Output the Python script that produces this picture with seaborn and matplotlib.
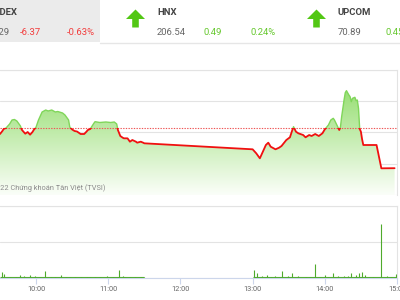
import numpy as np
import pandas as pd
import matplotlib
matplotlib.use("Agg")
import matplotlib.pyplot as plt
import seaborn as sns
from matplotlib.patches import Rectangle, Polygon
from matplotlib.colors import LinearSegmentedColormap

# ---------------- data ----------------
times = ["09:30", "09:32", "09:33", "09:35", "09:38", "09:40", "09:42", "09:44", "09:47", "09:48",
         "09:49", "09:51", "09:53", "09:55", "09:57", "09:58", "10:00", "10:02", "10:05", "10:08",
         "10:10", "10:13", "10:16", "10:18", "10:22", "10:24", "10:27", "10:28", "10:30", "10:32",
         "10:34", "10:37", "10:40", "10:42", "10:43", "10:45", "10:48", "10:49", "10:53", "10:58",
         "11:02", "11:05", "11:07", "11:08", "11:10", "11:12", "11:13", "11:16", "11:18", "11:20",
         "11:23", "11:24", "11:27", "11:29", "11:30", "13:00", "13:03", "13:06", "13:08", "13:11",
         "13:13", "13:15", "13:19", "13:22", "13:24", "13:28", "13:31", "13:33", "13:34", "13:36",
         "13:38", "13:42", "13:44", "13:47", "13:49", "13:52", "13:55", "13:58", "14:00", "14:03",
         "14:05", "14:07", "14:08", "14:10", "14:12", "14:13", "14:14", "14:16", "14:17", "14:18",
         "14:20", "14:21", "14:22", "14:23", "14:25", "14:26", "14:27", "14:28", "14:29", "14:30",
         "14:31", "14:32", "14:43", "14:47", "14:58"]
prices = [1009.76, 1010.24, 1010.56, 1010.72, 1011.36, 1012.00, 1012.08, 1011.84, 1011.04, 1010.48,
          1010.24, 1009.81, 1010.08, 1009.65, 1010.08, 1010.40, 1010.88, 1012.00, 1013.28, 1013.60,
          1013.44, 1013.60, 1013.28, 1013.36, 1013.12, 1012.80, 1012.00, 1010.88, 1010.48, 1010.24,
          1010.16, 1009.76, 1009.76, 1010.16, 1010.40, 1010.56, 1011.47, 1011.73, 1011.60, 1011.68,
          1011.60, 1011.68, 1011.36, 1010.40, 1009.44, 1009.17, 1009.07, 1009.07, 1008.53, 1008.80,
          1008.53, 1008.37, 1008.53, 1008.37, 1008.27, 1007.31, 1006.67, 1005.87, 1006.72, 1008.00,
          1008.37, 1007.73, 1007.31, 1007.57, 1007.84, 1008.80, 1009.23, 1010.40, 1010.93, 1010.13,
          1009.87, 1009.60, 1009.23, 1009.60, 1009.44, 1009.76, 1009.44, 1009.87, 1010.51, 1011.20,
          1012.00, 1012.27, 1012.00, 1011.20, 1010.40, 1010.88, 1012.53, 1015.20, 1016.37, 1016.69,
          1016.00, 1015.73, 1014.93, 1015.47, 1015.63, 1015.09, 1015.20, 1013.87, 1010.56, 1010.13,
          1008.91, 1008.00, 1008.00, 1004.27, 1004.29]
ref_price = 1010.66

vol_times = ["09:32", "09:33", "09:38", "09:43", "09:47", "09:50", "09:55", "09:59", "10:03", "10:07",
             "10:12", "10:16", "10:21", "10:25", "10:28", "10:32", "10:37", "10:42", "10:45", "10:49",
             "10:53", "10:59", "11:04", "11:09", "11:12", "11:14", "11:18", "11:22", "11:27", "11:30",
             "13:01", "13:04", "13:08", "13:12", "13:15", "13:19", "13:24", "13:29", "13:33", "13:38",
             "13:44", "13:48", "13:52", "13:56", "14:00", "14:03", "14:07", "14:11", "14:16", "14:19",
             "14:22", "14:26", "14:28", "14:31", "14:33", "14:37", "14:40", "14:47", "14:52", "14:55",
             "14:59"]
vol_values = [0.8, 0.6, 0.2, 0.2, 0.45, 0.3, 0.35, 0.3, 0.2, 1.0,
              0.2, 0.15, 0.35, 0.15, 0.2, 0.2, 0.15, 0.2, 0.15, 0.2,
              0.15, 0.3, 0.15, 1.15, 0.3, 0.2, 0.15, 0.2, 0.15, 0.2,
              1.05, 0.75, 0.3, 0.45, 0.2, 0.3, 1.0, 0.3, 0.7, 0.3,
              0.2, 0.15, 1.95, 0.2, 0.4, 0.2, 0.7, 0.3, 0.3, 0.3,
              0.7, 0.45, 0.7, 0.9, 0.4, 0.2, 0.15, 7.5, 0.3, 0.2,
              0.6]
sessions = [("09:30", "11:30"), ("13:00", "14:59")]
tick_labels = ["10:00", "11:00", "12:00", "13:00", "14:00", "15:00"]

tickers = ["VNINDEX", "HNX", "UPCOM"]
index_values = ["1,004.29", "206.54", "70.89"]
index_changes = ["-6.37", "0.49", "0.45"]
index_pcts = ["-0.63%", "0.24%", ""]
watermark = "© 2022 Chứng khoán Tân Việt (TVSI)"


def to_hours(s):
    h, m = s.split(":")
    return int(h) + int(m) / 60.0


# ---------------- figure ----------------
sns.set_theme(style="white")
plt.rcParams["font.family"] = ["Roboto", "DejaVu Sans"]

W, H = 400, 300
fig = plt.figure(figsize=(4, 3), dpi=100)
fig.patch.set_facecolor("white")


def fx(px):
    return px / W


def fy(py):
    return 1 - py / H


# header background & separator
fig.patches.append(Rectangle((0, fy(42)), fx(100), 42 / H, transform=fig.transFigure,
                             facecolor="#ebebeb", edgecolor="none", zorder=0))
fig.lines.append(plt.Line2D([fx(100), 1], [fy(43), fy(43)], transform=fig.transFigure,
                            color="#e6e6e6", lw=1.0))

GREEN_TXT = "#66c82e"
RED_TXT = "#f23c3c"
col_x = [-27, 157, 338]
for i, (tk, v, ch, pc) in enumerate(zip(tickers, index_values, index_changes, index_pcts)):
    x0 = col_x[i]
    c = RED_TXT if ch.startswith("-") else GREEN_TXT
    tx = x0 + (5 if i == 0 else 0)
    fig.text(fx(tx), fy(12.5), tk, fontsize=6.8, fontweight="bold", color="#444444",
             ha="left", va="center")
    fig.text(fx(x0), fy(32.5), v, fontsize=6.8, color="#666666", ha="left", va="center")
    fig.text(fx(x0 + 47), fy(32.5), ch, fontsize=6.8, color=c, ha="left", va="center")
    if pc:
        fig.text(fx(x0 + 94), fy(32.5), pc, fontsize=6.8, color=c, ha="left", va="center")

# up arrows
for cx in [135.5, 316.5]:
    pts = [(cx - 9.5, 19), (cx, 9.5), (cx + 9.5, 19), (cx + 3.3, 19), (cx + 3.3, 27.5),
           (cx - 3.3, 27.5), (cx - 3.3, 19)]
    fig.patches.append(Polygon([(fx(a), fy(b)) for a, b in pts], closed=True,
                               transform=fig.transFigure, facecolor="#52c714",
                               edgecolor="none"))

# ---------------- main price axes ----------------
hours = np.array([to_hours(t) for t in times])
df = pd.DataFrame({"t": hours, "price": prices})

x0h, x1h = 9.5, 15.0
ax = fig.add_axes([0, fy(195), 397 / W, 125 / H])
ax.set_xlim(x0h, x1h)
ax.set_ylim(1000, 1020)
ax.set_facecolor("none")

# gradient fill under the curve
fill = ax.fill_between(df["t"], df["price"], 1000, color="none", lw=0)
grad = np.linspace(1, 0, 256).reshape(-1, 1)
cmap = LinearSegmentedColormap.from_list("g", ["#fbfef9", "#86d95c"])
im = ax.imshow(grad, extent=[x0h, x1h, 1000, 1020], aspect="auto", cmap=cmap,
               origin="upper", zorder=1, interpolation="bilinear")
im.set_clip_path(fill.get_paths()[0], transform=ax.transData)

# line: green above reference, red below
sns.lineplot(data=df, x="t", y="price", ax=ax, color="#80d65a", lw=1.0,
             estimator=None, sort=False, zorder=3)
ln_g = ax.lines[-1]
ln_g.set_clip_path(Rectangle((x0h, ref_price), x1h - x0h, 1020 - ref_price,
                             transform=ax.transData))
sns.lineplot(data=df, x="t", y="price", ax=ax, color="#f01010", lw=1.3,
             estimator=None, sort=False, zorder=4)
ln_r = ax.lines[-1]
ln_r.set_clip_path(Rectangle((x0h, 1000), x1h - x0h, ref_price - 1000,
                             transform=ax.transData))

ax.axhline(ref_price, color="#ee5555", lw=0.8, ls=(0, (1.2, 1.2)), zorder=2)

ax.set_yticks([1000, 1005, 1010, 1015, 1020])
ax.set_xticks([])
ax.grid(axis="y", color="#e3e3e3", lw=0.8, zorder=0)
ax.tick_params(left=False, labelleft=False, bottom=False, labelbottom=False)
ax.set_xlabel("")
ax.set_ylabel("")
for s in ["left", "bottom"]:
    ax.spines[s].set_visible(False)
for s in ["top", "right"]:
    ax.spines[s].set_color("#e3e3e3")
    ax.spines[s].set_linewidth(0.8)

fig.text(fx(106), fy(188.5), watermark, fontsize=5.35, color="#8a8a8a", ha="right",
         va="center")

# ---------------- volume axes ----------------
vax = fig.add_axes([0, fy(278), 397 / W, 72 / H])
vax.set_xlim(x0h, x1h)
vax.set_ylim(0, 10)
vax.set_facecolor("none")
vh = np.array([to_hours(t) for t in vol_times])
for a, b in sessions:
    vax.hlines(0.15, to_hours(a), to_hours(b), color="#4daa2a", lw=0.8, zorder=2)
vax.vlines(vh, 0, vol_values, color="#4faa2c", lw=0.8, zorder=3)

vax.set_yticks([0, 5, 10])
vax.grid(axis="y", color="#e3e3e3", lw=0.8, zorder=0)
vax.set_xticks([to_hours(t) for t in tick_labels])
vax.set_xticklabels(tick_labels)
vax.tick_params(axis="x", bottom=True, length=4.3, width=0.8, color="#ccd6eb",
                pad=1.5, labelsize=5.3, labelcolor="#666666")
vax.tick_params(axis="y", left=False, labelleft=False)
vax.spines["left"].set_visible(False)
vax.spines["bottom"].set_color("#ccd6eb")
vax.spines["bottom"].set_linewidth(0.8)
for s in ["top", "right"]:
    vax.spines[s].set_color("#e3e3e3")
    vax.spines[s].set_linewidth(0.8)
for lab in vax.get_xticklabels():
    lab.set_clip_on(False)

fig.savefig("out.png", dpi=100)
